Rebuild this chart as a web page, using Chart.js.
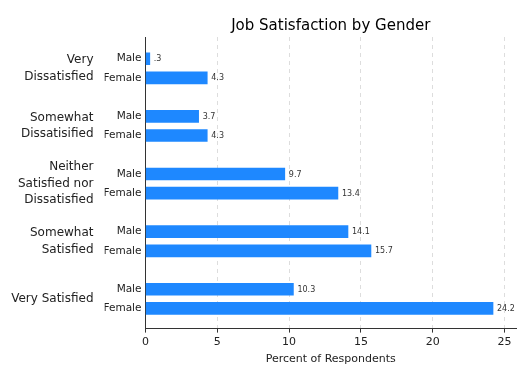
<!DOCTYPE html>
<html>
<head>
<meta charset="utf-8">
<script src="https://cdn.jsdelivr.net/npm/chart.js@4/dist/chart.umd.min.js"></script>
<style>
  html, body { margin: 0; padding: 0; background: #fff; }
  #wrap { width: 528px; height: 384px; position: relative; }
</style>
</head>
<body>
<div id="wrap"><canvas id="c"></canvas></div>
<script>
// ---- data ----
const categories = ['Very Dissatisfied', 'Somewhat Dissatisified', 'Neither Satisfied nor Dissatisfied', 'Somewhat Satisfied', 'Very Satisfied'];
const categoryLines = [['Very', 'Dissatisfied'], ['Somewhat', 'Dissatisified'], ['Neither', 'Satisfied nor', 'Dissatisfied'], ['Somewhat', 'Satisfied'], ['Very Satisfied']];
const genders = ['Male', 'Female'];
const maleValues = [0.3, 3.7, 9.7, 14.1, 10.3];
const femaleValues = [4.3, 4.3, 13.4, 15.7, 24.2];
const xTickValues = [0, 5, 10, 15, 20, 25];
const chartTitle = 'Job Satisfaction by Gender';
const xTitle = 'Percent of Respondents';

// ---- build rows (male, female per category, with a one-row gap between groups) ----
const rows = [];
categories.forEach((cat, g) => {
  rows.push({ x: maleValues[g], y: g * 3, label: genders[0] });
  rows.push({ x: femaleValues[g], y: g * 3 + 1, label: genders[1] });
});
const groupCenters = categories.map((c, g) => g * 3 + 0.5);

const FONT = '"DejaVu Sans", sans-serif';
const BAR = '#1e88ff';
const INK = '#222';

const yMin = -1.13, yMax = (categories.length - 1) * 3 + 1 + 1.05;

const valueLabels = {
  id: 'valueLabels',
  afterDatasetsDraw(chart) {
    const ctx = chart.ctx;
    const meta = chart.getDatasetMeta(0);
    ctx.save();
    ctx.font = '8px ' + FONT;
    ctx.fillStyle = '#333';
    ctx.textAlign = 'left';
    ctx.textBaseline = 'middle';
    meta.data.forEach((el, i) => {
      const v = rows[i].x;
      let s = v.toFixed(1);
      if (v < 1) s = s.replace(/^0/, '');
      ctx.fillText(s, el.x + 4, el.y + 0.5);
    });
    ctx.restore();
  }
};

new Chart(document.getElementById('c'), {
  type: 'bar',
  data: {
    datasets: [{
      data: rows,
      backgroundColor: BAR,
      borderWidth: 0,
      barThickness: 12
    }]
  },
  options: {
    indexAxis: 'y',
    responsive: true,
    maintainAspectRatio: false,
    animation: false,
    layout: { padding: { left: 10.5, right: 12, top: 17, bottom: 18 } },
    plugins: {
      legend: { display: false },
      tooltip: { enabled: false },
      title: { display: false }
    },
    scales: {
      x: {
        type: 'linear',
        position: 'bottom',
        min: 0,
        max: 25.8,
        afterBuildTicks: (axis) => { axis.ticks = xTickValues.map(v => ({ value: v })); },
        ticks: {
          font: { family: FONT, size: 11 },
          color: INK,
          padding: 3,
          callback: (v) => String(v)
        },
        grid: {
          color: (ctx) => (ctx.tick && ctx.tick.value === 0) ? 'rgba(0,0,0,0)' : '#dddddd',
          tickColor: '#333',
          tickLength: 4,
          drawTicks: true
        },
        border: { display: true, color: '#333', width: 1, dash: [4, 4] },
        title: {
          display: true,
          text: xTitle,
          font: { family: FONT, size: 11 },
          color: INK,
          padding: { top: 1, bottom: 0 }
        }
      },
      xTop: {
        type: 'linear',
        position: 'top',
        min: 0,
        max: 1,
        grid: { display: false, drawTicks: false },
        border: { display: false },
        ticks: { display: false },
        title: {
          display: true,
          text: chartTitle,
          font: { family: FONT, size: 15 },
          color: '#000',
          padding: { top: 0, bottom: 2 }
        }
      },
      y: {
        type: 'linear',
        position: 'left',
        reverse: true,
        offset: false,
        min: yMin,
        max: yMax,
        weight: 0,
        afterBuildTicks: (axis) => { axis.ticks = rows.map(r => ({ value: r.y })); },
        afterFit: (axis) => { axis.width = 41; },
        ticks: {
          font: { family: FONT, size: 10.5 },
          color: INK,
          padding: 4,
          callback: (v, i) => rows[i].label
        },
        grid: { display: false, drawTicks: false, offset: false },
        border: { display: true, color: '#333', width: 1 }
      },
      yGroup: {
        type: 'linear',
        position: 'left',
        reverse: true,
        offset: false,
        min: yMin,
        max: yMax,
        weight: 1,
        afterBuildTicks: (axis) => { axis.ticks = groupCenters.map(v => ({ value: v })); },
        afterFit: (axis) => { axis.width = 94; },
        ticks: {
          font: { family: FONT, size: 12, lineHeight: 1.4 },
          color: INK,
          padding: 11,
          callback: (v, i) => categoryLines[i]
        },
        grid: { display: false, drawTicks: false, offset: false },
        border: { display: false }
      }
    }
  },
  plugins: [valueLabels]
});
</script>
</body>
</html>
